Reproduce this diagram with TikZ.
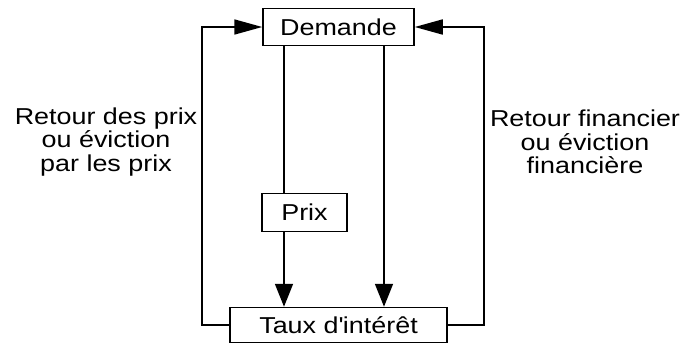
\documentclass[tikz,border=0pt]{standalone}
\usepackage{fontspec}
\setmainfont[FakeStretch=1.17]{Liberation Sans}
\usetikzlibrary{arrows.meta}
\begin{document}
\begin{tikzpicture}[x=1pt,y=-1pt,
  every node/.style={font=\fontsize{23}{23.5}\selectfont, inner sep=0pt},
  box/.style={draw, line width=1.5pt},
  link/.style={line width=1.7pt},
  harrow/.style={link, -{Triangle[length=28pt,width=15pt]}},
  varrow/.style={link, -{Triangle[length=23pt,width=18pt]}},
  lbl/.style={align=center}]
\useasboundingbox (0,0) rectangle (685,343);
\node[box, minimum width=151pt, minimum height=37pt] (dem) at (338.5,27) {Demande};
\node[box, minimum width=85pt, minimum height=38pt] (prix) at (304.5,212.5) {Prix};
\node[box, minimum width=217pt, minimum height=35pt] (taux) at (338.5,325) {Taux d\textquotesingle intérêt};
\coordinate (a1) at (284,0);
\coordinate (a2) at (384,0);
\draw[link] (dem.south -| a1) -- (prix.north -| a1);
\draw[varrow] (prix.south -| a1) -- (taux.north -| a1);
\draw[varrow] (dem.south -| a2) -- (taux.north -| a2);
\draw[harrow] (taux.west) -- ++(-27,0) |- (dem.west);
\draw[harrow] (taux.east) -- ++(36,0) |- (dem.east);
\node[lbl] (gauche) at (106,142) {Retour des prix\\ou éviction\\par les prix};
\node[lbl] (droite) at (585,142) {Retour financier\\ou éviction\\financière};
\end{tikzpicture}
\end{document}
